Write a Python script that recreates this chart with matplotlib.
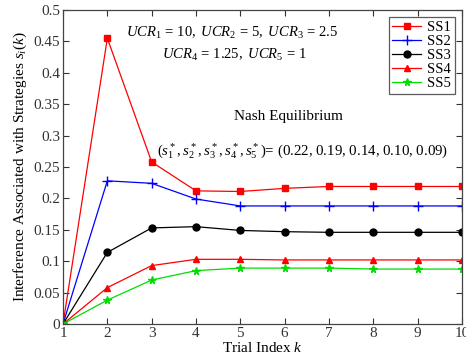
import matplotlib
matplotlib.use("Agg")
import matplotlib.pyplot as plt

plt.rcParams['font.family'] = ['Liberation Serif', 'DejaVu Serif']
plt.rcParams['mathtext.fontset'] = 'custom'
plt.rcParams['mathtext.rm'] = 'Liberation Serif'
plt.rcParams['mathtext.it'] = 'Liberation Serif:italic'
plt.rcParams['mathtext.bf'] = 'Liberation Serif:bold'

k = [1, 2, 3, 4, 5, 6, 7, 8, 9, 10]
ss1 = [0.0, 0.455, 0.258, 0.212, 0.211, 0.216, 0.219, 0.219, 0.219, 0.219]
ss2 = [0.0, 0.228, 0.224, 0.199, 0.188, 0.188, 0.188, 0.188, 0.188, 0.188]
ss3 = [0.0, 0.114, 0.153, 0.155, 0.149, 0.147, 0.146, 0.146, 0.146, 0.146]
ss4 = [0.0, 0.058, 0.093, 0.103, 0.103, 0.102, 0.102, 0.102, 0.102, 0.102]
ss5 = [0.0, 0.038, 0.070, 0.085, 0.089, 0.089, 0.089, 0.0875, 0.0875, 0.0875]
labels = ['SS1', 'SS2', 'SS3', 'SS4', 'SS5']
yticks = [0, 0.05, 0.1, 0.15, 0.2, 0.25, 0.3, 0.35, 0.4, 0.45, 0.5]
yticklabels = ['0', '0.05', '0.1', '0.15', '0.2', '0.25', '0.3', '0.35', '0.4', '0.45', '0.5']

fig = plt.figure(figsize=(4.66, 3.62), dpi=100)
ax = fig.add_axes([63/466, 1 - 324/362, (462-63)/466, (324-10)/362])

styles = [
    dict(color='#ff0000', marker='s', ms=5),
    dict(color='#0000ff', marker='+', ms=7, mew=1.0),
    dict(color='#000000', marker='o', ms=5),
    dict(color='#ff0000', marker='^', ms=5),
    dict(color='#00dd00', marker='*', ms=5.5),
]
for ys, lab, st in zip([ss1, ss2, ss3, ss4, ss5], labels, styles):
    ax.plot(k, ys, lw=0.9, label=lab, **st)

ax.set_xlim(1, 10)
ax.set_ylim(0, 0.5)
ax.set_xticks(k)
ax.set_yticks(yticks)
ax.set_yticklabels(yticklabels)
ax.tick_params(direction='in', top=True, right=True, labelsize=11, length=4, pad=2, colors='#333333')
for sp in ax.spines.values():
    sp.set_color('#444444')
    sp.set_linewidth(0.9)

ax.set_xlabel('Trial Index $\\mathit{k}$', fontsize=11, labelpad=1)
ax.set_ylabel('Interference Associated with Strategies $\\mathit{s_i(k)}$', fontsize=11, labelpad=3)

ax.text(0.425, 0.927, '$\\mathit{UCR_1\\,=\\,10,\\ UCR_2\\,=\\,5,\\ UCR_3\\,=\\,2.5}$', transform=ax.transAxes,
        ha='center', va='center', fontsize=10.5)
ax.text(0.43, 0.857, '$\\mathit{UCR_4\\,=\\,1.25,\\ UCR_5\\,=\\,1}$', transform=ax.transAxes,
        ha='center', va='center', fontsize=10.5)
ax.text(0.565, 0.66, 'Nash Equilibrium', transform=ax.transAxes, ha='center', va='center', fontsize=11)
ax.text(0.236, 0.55, '$(s_1^*, s_2^*, s_3^*, s_4^*, s_5^*)$= (0.22, 0.19, 0.14, 0.10, 0.09)',
        transform=ax.transAxes, ha='left', va='center', fontsize=10.7)

leg = ax.legend(loc='upper right', fontsize=10.5, frameon=True, fancybox=False,
                edgecolor='#333333', handlelength=2.0, borderaxespad=0.5,
                labelspacing=0.05, handletextpad=0.4, borderpad=0.25)
leg.get_frame().set_linewidth(0.9)

fig.savefig('out.png', dpi=100)
